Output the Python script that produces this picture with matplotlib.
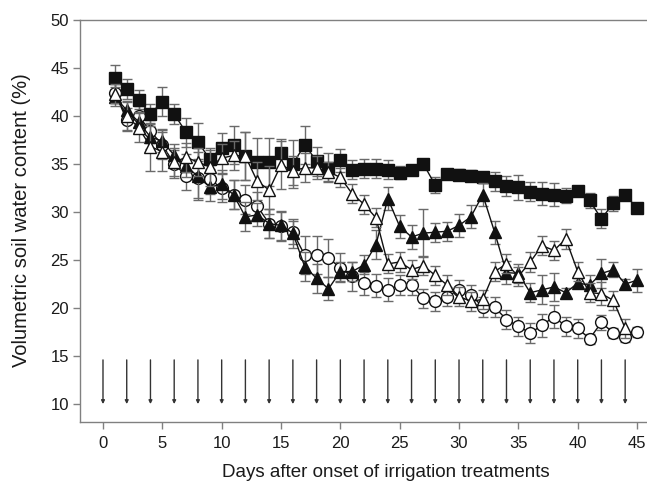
import matplotlib
matplotlib.use("Agg")
import matplotlib.pyplot as plt
import numpy as np

plt.rcParams['font.family'] = ['Liberation Sans', 'DejaVu Sans']

days = np.arange(1, 46)

# filled squares
sq = [44.0, 42.8, 41.7, 40.2, 41.5, 40.2, 38.3, 37.3, 35.5, 36.7,
      37.0, 35.8, 35.2, 35.2, 36.1, 35.0, 37.0, 35.3, 34.6, 35.4,
      34.4, 34.5, 34.5, 34.4, 34.1, 34.4, 35.0, 32.8, 34.0, 33.9,
      33.8, 33.6, 33.2, 32.7, 32.6, 32.1, 31.9, 31.8, 31.7, 32.2,
      31.2, 29.3, 30.9, 31.8, 30.4]
sq_err = [1.3, 1.0, 1.0, 1.0, 1.5, 1.0, 1.5, 2.0, 1.0, 1.5,
          2.0, 2.5, 2.5, 2.5, 1.5, 2.5, 2.0, 1.5, 1.5, 1.2,
          1.0, 1.0, 1.0, 1.0, 0.7, 0.5, 0.5, 0.8, 0.5, 0.6,
          0.6, 0.6, 1.0, 1.0, 1.3, 1.0, 1.2, 1.2, 0.8, 0.5,
          0.8, 1.0, 0.8, 0.5, 0.5]

# open circles
ci = [42.4, 39.6, 40.0, 38.4, 37.0, 35.0, 33.8, 33.5, 33.4, 32.5,
      31.8, 31.3, 30.6, 28.8, 28.5, 27.9, 25.5, 25.5, 25.2, 24.2,
      23.3, 22.6, 22.3, 21.9, 22.4, 22.4, 21.0, 20.7, 21.2, 21.9,
      21.4, 20.1, 20.1, 18.8, 18.1, 17.4, 18.2, 19.1, 18.1, 17.9,
      16.8, 18.5, 17.4, 17.0, 17.5]
ci_err = [1.0, 1.2, 1.0, 1.2, 1.5, 1.5, 1.5, 2.0, 1.5, 1.5,
          1.5, 1.5, 1.5, 1.5, 1.5, 1.2, 2.0, 2.0, 2.0, 1.5,
          1.5, 1.2, 1.2, 1.2, 1.0, 1.0, 1.0, 1.0, 1.0, 1.0,
          1.0, 1.0, 1.0, 1.0, 1.0, 1.0, 1.2, 1.2, 1.0, 1.0,
          0.5, 0.8, 0.5, 0.5, 0.5]

# filled triangles
ft = [42.0, 40.6, 39.4, 37.8, 37.4, 35.9, 34.8, 33.7, 32.6, 32.9,
      31.8, 29.5, 29.7, 28.8, 28.6, 27.8, 24.3, 23.1, 22.0, 23.8,
      23.8, 24.5, 26.6, 31.4, 28.5, 27.4, 27.8, 27.9, 28.0, 28.6,
      29.5, 31.8, 27.9, 23.7, 23.6, 21.6, 21.9, 22.2, 21.6, 22.6,
      22.4, 23.6, 24.0, 22.5, 22.9]
ft_err = [1.0, 1.0, 1.0, 1.2, 1.2, 1.2, 1.2, 2.5, 1.5, 1.5,
          1.5, 1.5, 1.2, 1.5, 1.5, 1.5, 1.5, 1.5, 1.2, 1.0,
          1.0, 1.0, 1.5, 1.2, 1.2, 1.2, 2.5, 1.0, 1.0, 1.2,
          1.2, 1.2, 1.2, 1.2, 1.0, 1.0, 1.5, 1.5, 0.5, 0.5,
          1.0, 1.5, 0.8, 0.5, 1.2]

# open triangles (day 1-44)
ot = [42.3, 40.0, 38.8, 36.8, 36.3, 35.2, 35.7, 35.2, 34.7, 35.6,
      35.9, 35.8, 33.2, 32.3, 34.9, 34.3, 34.6, 34.6, 34.2, 33.6,
      31.9, 30.8, 29.4, 24.6, 24.8, 24.0, 24.4, 23.4, 22.4, 21.2,
      20.7, 20.9, 23.8, 24.6, 23.3, 24.8, 26.5, 26.0, 27.2, 23.8,
      21.6, 21.5, 20.8, 17.9]
ot_err = [1.0, 1.5, 1.5, 2.5, 2.0, 1.5, 1.5, 1.5, 2.0, 1.5,
          1.5, 2.5, 2.0, 2.5, 2.5, 1.5, 1.5, 1.2, 1.0, 1.0,
          1.0, 1.0, 1.0, 1.0, 1.0, 1.0, 1.0, 1.0, 1.0, 1.0,
          1.0, 1.0, 1.0, 1.0, 1.0, 1.0, 1.0, 1.0, 1.0, 1.0,
          1.0, 1.2, 1.0, 1.0]

irrigation_days = list(range(0, 45, 2))

fig = plt.figure(figsize=(6.47, 4.83), dpi=100)
ax = fig.add_axes([0.1236, 0.126, 0.8764, 0.8327])

ecol = '#6a6a6a'
common = dict(color='#111111', lw=1.0, ecolor=ecol, elinewidth=1.0,
              capsize=3.5, capthick=1.0, ms=8.5, mec='#111111', mew=1.0)

ax.errorbar(days, sq, yerr=sq_err, fmt='-s', mfc='#111111', zorder=3, **common)
ax.errorbar(days, ci, yerr=ci_err, fmt='-o', mfc='white', zorder=3, **common)
ax.errorbar(days, ft, yerr=ft_err, fmt='-^', mfc='#111111', zorder=4, **common)
ax.errorbar(days[:len(ot)], ot, yerr=ot_err, fmt='-^', mfc='white', zorder=5, **common)

# irrigation events
for d in irrigation_days:
    ax.annotate('', xy=(d, 10), xytext=(d, 14.6),
                arrowprops=dict(arrowstyle='-|>', color='#333333', lw=1.0,
                                mutation_scale=5, shrinkA=0, shrinkB=0))

ax.set_xlim(-1.94, 45.84)
ax.set_ylim(8.12, 50)
ax.set_xticks(range(0, 46, 5))
ax.set_yticks(range(10, 51, 5))

for s in ['left', 'bottom', 'top']:
    ax.spines[s].set_color('#808080')
    ax.spines[s].set_linewidth(1.0)
ax.spines['right'].set_visible(False)
ax.tick_params(axis='both', colors='#808080', labelcolor='#1a1a1a',
               labelsize=12, length=5, width=1.0, direction='out')
ax.tick_params(axis='x', pad=5)
ax.tick_params(axis='y', pad=3)

fig.text(0.034, 0.545, 'Volumetric soil water content (%)', rotation=90,
         ha='center', va='center', fontsize=14.5, color='#1a1a1a')
fig.text(0.597, 0.022, 'Days after onset of irrigation treatments',
         ha='center', va='center', fontsize=13.5, color='#1a1a1a')

fig.savefig('out.png', dpi=100)
